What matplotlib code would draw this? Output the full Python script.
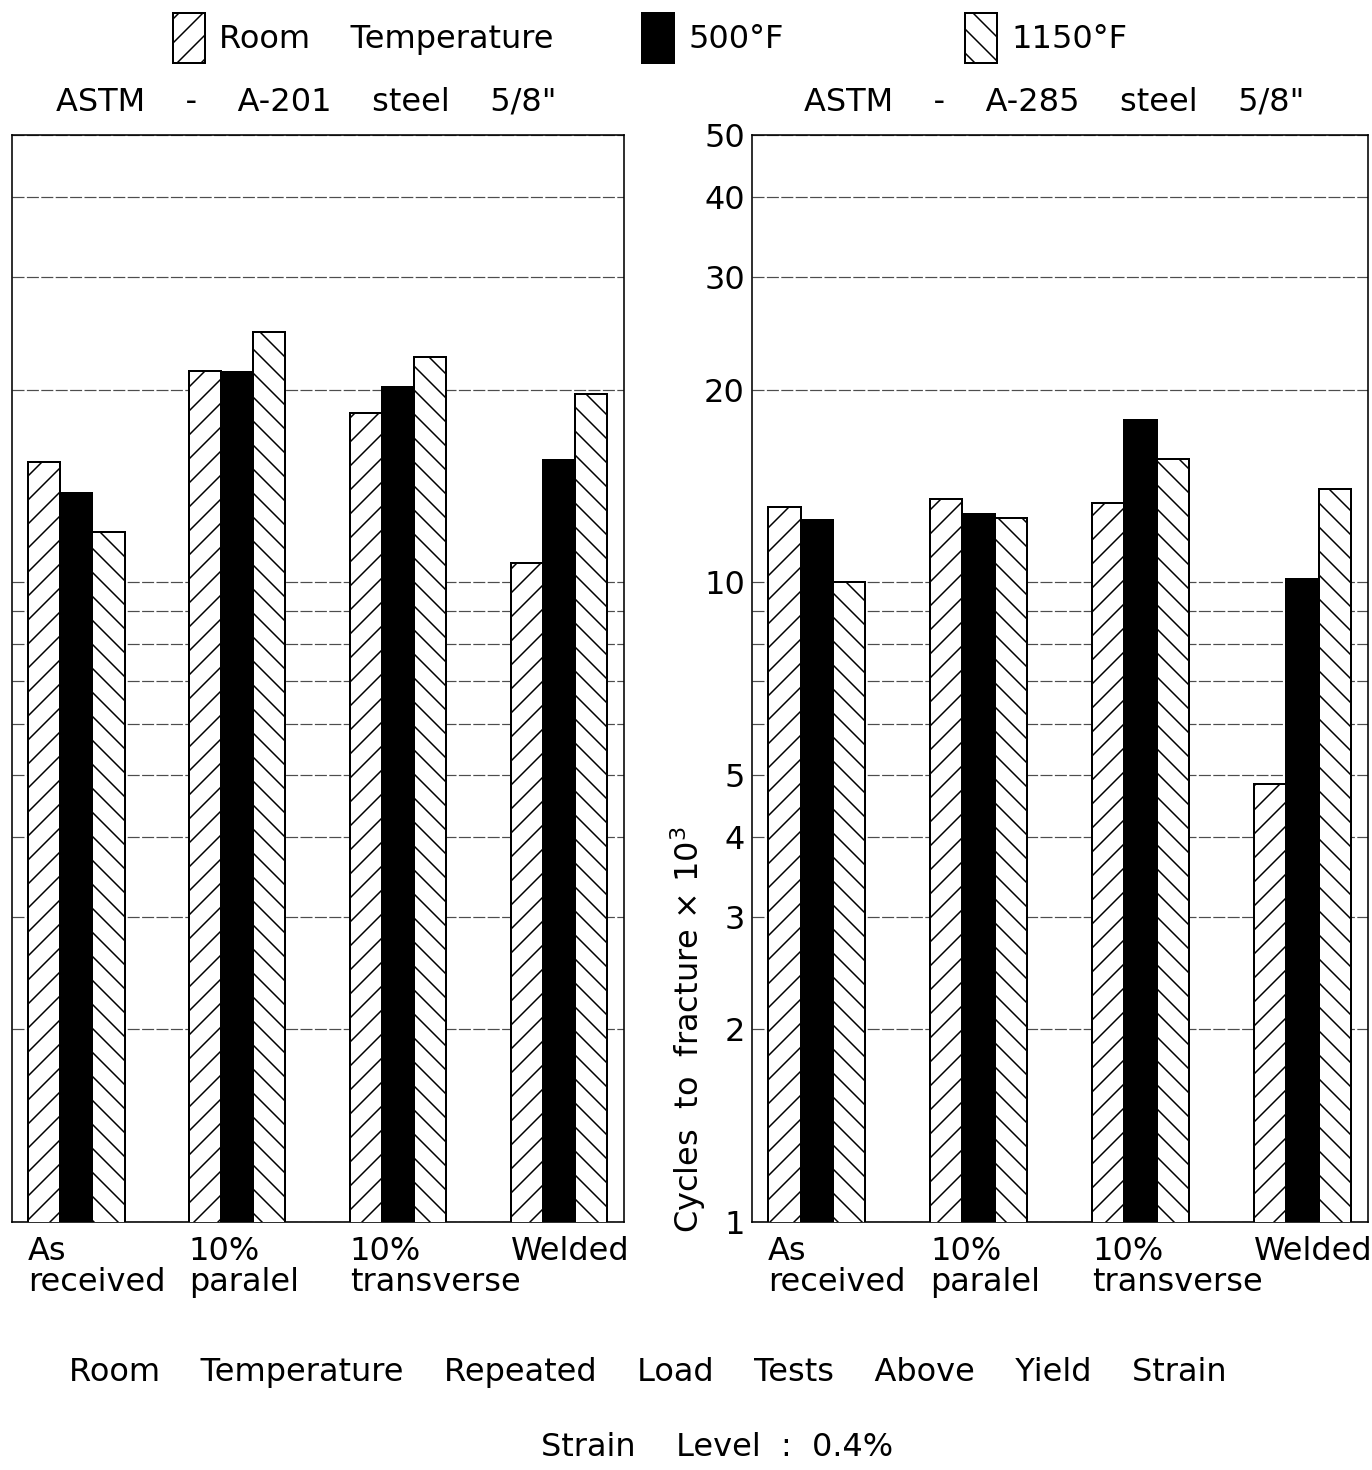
import matplotlib
matplotlib.use("Agg")
import matplotlib.pyplot as plt

# data (cycles to fracture x 10^3)
categories = ["As\nreceived", "10%\nparalel", "10%\ntransverse", "Welded"]
series_labels = ["Room    Temperature", "500°F", "1150°F"]

a201_room = [15.4, 21.4, 18.4, 10.7]
a201_500 = [13.8, 21.3, 20.2, 15.5]
a201_1150 = [12.0, 24.6, 22.5, 19.7]

a285_room = [13.1, 13.5, 13.3, 4.84]
a285_500 = [12.5, 12.8, 17.9, 10.1]
a285_1150 = [10.0, 12.6, 15.6, 14.0]

major_ticks = [1, 2, 3, 4, 5, 10, 20, 30, 40, 50]
minor_ticks = [6, 7, 8, 9]

plt.rcParams["font.family"] = ["DejaVu Sans"]
plt.rcParams["hatch.linewidth"] = 1.5
plt.rcParams["hatch.color"] = "black"

FS = 32
DPI = 72
fig = plt.figure(figsize=(1372 / DPI, 1470 / DPI), dpi=DPI)

ax_l = fig.add_axes([12 / 1372, 1 - 1222 / 1470, 612 / 1372, 1087 / 1470])
ax_r = fig.add_axes([752 / 1372, 1 - 1222 / 1470, 616 / 1372, 1087 / 1470])

w = 0.2
styles = [
    dict(facecolor="white", hatch="/"),
    dict(facecolor="black", hatch=None),
    dict(facecolor="white", hatch="\\"),
]

handles = []
for ax, data, title, tx in [
    (ax_l, [a201_room, a201_500, a201_1150], "ASTM    -    A-201    steel    5/8\"", 0.48),
    (ax_r, [a285_room, a285_500, a285_1150], "ASTM    -    A-285    steel    5/8\"", 0.49),
]:
    ax.set_yscale("log")
    for j, vals in enumerate(data):
        xs = [i + (j - 1) * w for i in range(len(categories))]
        b = ax.bar(xs, vals, width=w, edgecolor="black", linewidth=2,
                   zorder=3, **styles[j])
        if ax is ax_l:
            handles.append(b)
    ax.set_ylim(1, 50)
    ax.set_xlim(-0.40, 3.405)
    ax.set_yticks(major_ticks)
    ax.set_yticklabels([str(t) for t in major_ticks])
    ax.set_yticks(minor_ticks, minor=True)
    ax.yaxis.set_minor_formatter(matplotlib.ticker.NullFormatter())
    ax.grid(True, which="both", axis="y", color="0.3", linewidth=1.2,
            linestyle=(0, (10, 2)), zorder=1)
    ax.set_axisbelow(True)
    ax.tick_params(axis="y", which="both", length=0, pad=7, labelsize=FS)
    ax.set_xticks([i - 1.5 * w for i in range(len(categories))])
    ax.set_xticklabels(categories, ha="left", fontsize=FS, linespacing=1.0)
    ax.tick_params(axis="x", length=0, pad=14)
    ax.set_title(title, fontsize=FS, pad=24, x=tx)
    for s in ax.spines.values():
        s.set_linewidth(1.6)

ax_l.tick_params(axis="y", labelleft=False)

# legend, one entry at a time so the gaps match
for h, lab, x0 in zip(handles, series_labels, [173, 642, 965]):
    fig.legend([h], [lab], loc="center left",
               bbox_to_anchor=(x0 / 1372, 1 - 38 / 1470),
               frameon=False, fontsize=FS, borderpad=0, borderaxespad=0,
               handlelength=1.0, handleheight=2.05, handletextpad=0.45)

fig.text(688 / 1372, 1 - 1030 / 1470, "Cycles  to  fracture × 10$^3$",
         rotation=90, ha="center", va="center", fontsize=FS)

fig.text(648 / 1372, 1 - 1372 / 1470,
         "Room    Temperature    Repeated    Load    Tests    Above    Yield    Strain",
         ha="center", va="center", fontsize=FS)
fig.text(717 / 1372, 1 - 1448 / 1470, "Strain    Level  :  0.4%",
         ha="center", va="center", fontsize=FS)

fig.savefig("out.png", dpi=DPI)
